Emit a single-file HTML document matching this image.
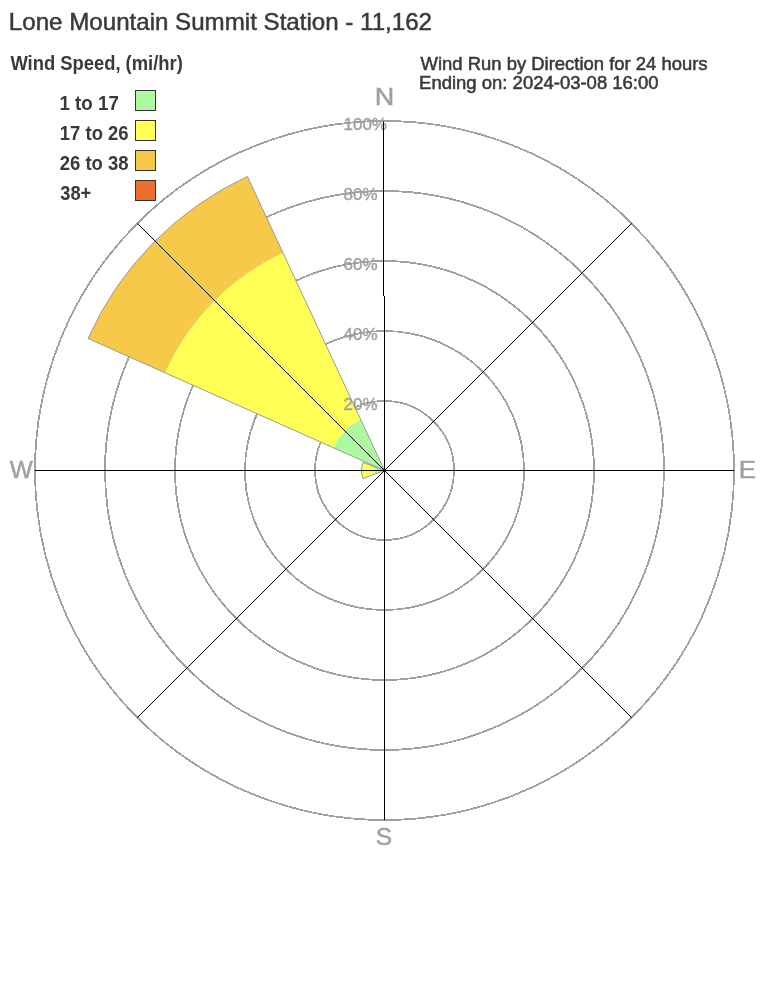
<!DOCTYPE html>
<html><head><meta charset="utf-8"><style>
html,body{margin:0;padding:0;background:#fff;width:768px;height:1008px;overflow:hidden}
svg{display:block;font-family:"Liberation Sans",sans-serif;will-change:transform}
</style></head><body>
<svg width="768" height="1008" viewBox="0 0 768 1008">
<circle cx="384.5" cy="470.5" r="69.5" fill="none" stroke="#a0a0a0" stroke-width="1.8" shape-rendering="crispEdges"/>
<circle cx="384.5" cy="470.5" r="139.5" fill="none" stroke="#a0a0a0" stroke-width="1.8" shape-rendering="crispEdges"/>
<circle cx="384.5" cy="470.5" r="209.5" fill="none" stroke="#a0a0a0" stroke-width="1.8" shape-rendering="crispEdges"/>
<circle cx="384.5" cy="470.5" r="279.5" fill="none" stroke="#a0a0a0" stroke-width="1.8" shape-rendering="crispEdges"/>
<circle cx="384.5" cy="470.5" r="349.5" fill="none" stroke="#a0a0a0" stroke-width="1.8" shape-rendering="crispEdges"/>
<g stroke="none">
<path d="M165.25,372.88 L88.05,338.51 A324.5,324.5 0 0 1 247.36,176.40 L283.07,252.99 A240,240 0 0 0 165.25,372.88 Z" fill="#f7c948"/>
<path d="M333.34,447.72 L165.25,372.88 A240,240 0 0 1 283.07,252.99 L360.83,419.75 A56,56 0 0 0 333.34,447.72 Z" fill="#ffff55"/>
<path d="M384.5,470.5 L333.34,447.72 A56,56 0 0 1 360.83,419.75 Z" fill="#adf99f"/>
<path d="M374.66,474.18 L362.96,478.55 A23,23 0 0 1 362.96,462.45 L374.66,466.82 A10.5,10.5 0 0 0 374.66,474.18 Z" fill="#ffff55"/>
<path d="M384.5,470.5 L374.66,474.18 A10.5,10.5 0 0 1 374.66,466.82 Z" fill="#adf99f"/>
</g>
<g stroke="#999" stroke-width="1" fill="none">
<path d="M384.5,470.5 L88.05,338.51 A324.5,324.5 0 0 1 247.36,176.40 Z" fill="none"/>
<path d="M384.5,470.5 L362.96,478.55 A23,23 0 0 1 362.96,462.45 Z" fill="none"/>
</g>
<text id="p20" x="343.5" y="410.0" font-size="17" fill="#a0a0a0" stroke="#a0a0a0" stroke-width="0.4">20%</text>
<text id="p40" x="343.5" y="340.0" font-size="17" fill="#a0a0a0" stroke="#a0a0a0" stroke-width="0.4">40%</text>
<text id="p60" x="343.5" y="270.0" font-size="17" fill="#a0a0a0" stroke="#a0a0a0" stroke-width="0.4">60%</text>
<text id="p80" x="343.5" y="200.0" font-size="17" fill="#a0a0a0" stroke="#a0a0a0" stroke-width="0.4">80%</text>
<text id="p100" x="343.5" y="130.0" font-size="17" fill="#a0a0a0" stroke="#a0a0a0" stroke-width="0.4">100%</text>
<g stroke="#000" stroke-width="1"><line x1="384.5" y1="470.5" x2="384.5" y2="296"/><line x1="383.5" y1="296" x2="383.5" y2="121.5"/><line x1="384.5" y1="470.5" x2="631.63" y2="223.37"/><line x1="384.5" y1="470.5" x2="734.00" y2="470.50"/><line x1="384.5" y1="470.5" x2="631.63" y2="717.63"/><line x1="384.5" y1="470.5" x2="384.50" y2="820.00"/><line x1="384.5" y1="470.5" x2="137.37" y2="717.63"/><line x1="384.5" y1="470.5" x2="35.00" y2="470.50"/><line x1="384.5" y1="470.5" x2="137.37" y2="223.37"/></g>
<circle cx="384.5" cy="470.5" r="1.6" fill="#000"/>
<text id="N" x="374.65" y="105" font-size="24" fill="#a0a0a0" stroke="#a0a0a0" stroke-width="0.45" textLength="19.51" lengthAdjust="spacingAndGlyphs">N</text>
<text id="S" x="375.72" y="845" font-size="24" fill="#a0a0a0" stroke="#a0a0a0" stroke-width="0.45" textLength="16.42" lengthAdjust="spacingAndGlyphs">S</text>
<text id="E" x="738.75" y="478" font-size="24" fill="#a0a0a0" stroke="#a0a0a0" stroke-width="0.45" textLength="17.24" lengthAdjust="spacingAndGlyphs">E</text>
<text id="W" x="9.75" y="478" font-size="24" fill="#a0a0a0" stroke="#a0a0a0" stroke-width="0.45" textLength="23.01" lengthAdjust="spacingAndGlyphs">W</text>
<text id="title" x="8.89" y="30" font-size="24" fill="#3a3a3a" stroke="#3a3a3a" stroke-width="0.5" textLength="423.15" lengthAdjust="spacingAndGlyphs">Lone Mountain Summit Station - 11,162</text>
<text id="ws" x="10.40" y="70" font-size="20" font-weight="bold" fill="#3a3a3a" textLength="172.41" lengthAdjust="spacingAndGlyphs">Wind Speed, (mi/hr)</text>
<text id="wr" x="420.60" y="69.6" font-size="18.4" fill="#3a3a3a" stroke="#3a3a3a" stroke-width="0.55" textLength="286.96" lengthAdjust="spacingAndGlyphs">Wind Run by Direction for 24 hours</text>
<text id="end" x="419.10" y="88.5" font-size="18.4" fill="#3a3a3a" stroke="#3a3a3a" stroke-width="0.55" textLength="239.47" lengthAdjust="spacingAndGlyphs">Ending on: 2024-03-08 16:00</text>
<rect x="135.5" y="90.5" width="20" height="20" fill="#adf99f" stroke="#333" stroke-width="1"/>
<text id="leg0" x="59.53" y="110" font-size="20" font-weight="bold" fill="#3a3a3a" textLength="59.28" lengthAdjust="spacingAndGlyphs">1 to 17</text>
<rect x="135.5" y="120.5" width="20" height="20" fill="#ffff55" stroke="#333" stroke-width="1"/>
<text id="leg1" x="59.85" y="140" font-size="20" font-weight="bold" fill="#3a3a3a" textLength="68.74" lengthAdjust="spacingAndGlyphs">17 to 26</text>
<rect x="135.5" y="150.5" width="20" height="20" fill="#f7c948" stroke="#333" stroke-width="1"/>
<text id="leg2" x="59.71" y="170" font-size="20" font-weight="bold" fill="#3a3a3a" textLength="68.88" lengthAdjust="spacingAndGlyphs">26 to 38</text>
<rect x="135.5" y="180.5" width="20" height="20" fill="#ee6e2e" stroke="#333" stroke-width="1"/>
<text id="leg3" x="60.24" y="200" font-size="20" font-weight="bold" fill="#3a3a3a" textLength="31.01" lengthAdjust="spacingAndGlyphs">38+</text>
</svg>
</body></html>
